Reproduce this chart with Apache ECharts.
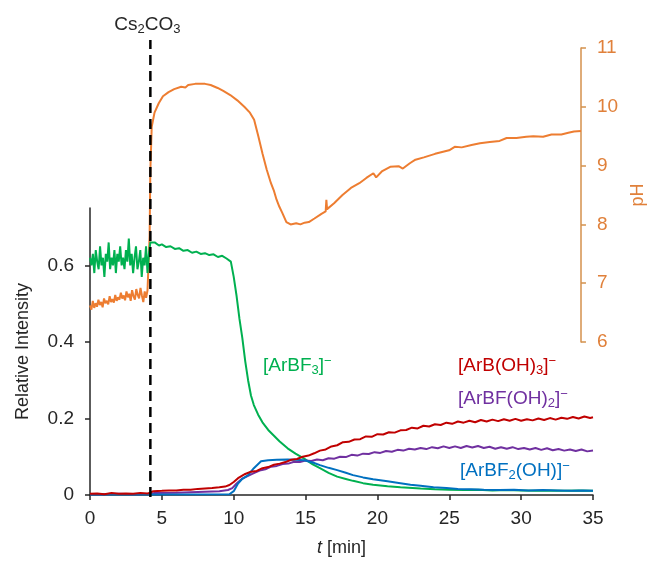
<!DOCTYPE html>
<html>
<head>
<meta charset="utf-8">
<script src="https://cdn.jsdelivr.net/npm/echarts@6/dist/echarts.min.js"></script>
<style>
  html, body { margin: 0; padding: 0; background: #fff; }
  #chart { width: 655px; height: 562px; }
</style>
</head>
<body>
<div id="chart"></div>
<script>
// time [min], relative intensity / pH
var arbf3 = [
  [0, 0.62], [0.1, 0.60], [0.2, 0.63], [0.3, 0.58], [0.4, 0.64], [0.5, 0.61], [0.6, 0.59], [0.7, 0.65],
  [0.8, 0.60], [0.9, 0.62], [1.0, 0.57], [1.1, 0.63], [1.2, 0.61], [1.3, 0.66], [1.4, 0.59], [1.5, 0.62],
  [1.6, 0.60], [1.7, 0.64], [1.8, 0.58], [1.9, 0.63], [2.0, 0.61], [2.1, 0.65], [2.2, 0.60], [2.3, 0.62],
  [2.4, 0.59], [2.5, 0.64], [2.6, 0.61], [2.7, 0.67], [2.8, 0.60], [2.9, 0.63], [3.0, 0.58], [3.1, 0.62],
  [3.2, 0.65], [3.3, 0.59], [3.4, 0.61], [3.5, 0.64], [3.6, 0.57], [3.7, 0.62], [3.8, 0.60], [3.9, 0.65],
  [4.0, 0.58], [4.1, 0.63], [4.2, 0.66], [4.3, 0.655], [4.5, 0.66], [4.8, 0.652], [5.0, 0.655],
  [5.3, 0.648], [5.6, 0.65], [5.9, 0.643], [6.2, 0.645], [6.5, 0.638], [6.8, 0.64], [7.1, 0.633],
  [7.4, 0.636], [7.7, 0.63], [8.0, 0.632], [8.3, 0.627], [8.6, 0.629], [8.9, 0.622], [9.2, 0.625],
  [9.5, 0.618], [9.8, 0.61], [10.0, 0.57], [10.2, 0.52], [10.4, 0.46], [10.6, 0.41], [10.8, 0.35],
  [11.0, 0.30], [11.2, 0.26], [11.4, 0.235], [11.7, 0.21], [12.0, 0.19], [12.4, 0.17], [12.8, 0.155],
  [13.2, 0.14], [13.75, 0.122], [14.3, 0.108], [14.9, 0.095], [15.5, 0.08], [16.0, 0.07], [16.6, 0.058],
  [17.2, 0.048], [17.8, 0.042], [18.3, 0.037], [19.0, 0.031], [19.7, 0.027], [20.7, 0.023], [21.6, 0.02],
  [23, 0.017], [24, 0.015], [25, 0.014], [26, 0.013], [27, 0.014], [28, 0.012], [29, 0.013], [30, 0.012],
  [31, 0.011], [32, 0.012], [33, 0.011], [34, 0.012], [35, 0.011]
];
var arbfoh2 = [
  [0, 0.002], [1, 0.002], [2, 0.003], [3, 0.002], [4.2, 0.003], [4.5, 0.005], [6, 0.006], [7.5, 0.008],
  [9, 0.01], [9.6, 0.013], [9.9, 0.018], [10.2, 0.03], [10.6, 0.043], [11.0, 0.05], [11.4, 0.057],
  [11.8, 0.064], [12.2, 0.067], [12.6, 0.074], [13.0, 0.076], [13.4, 0.081], [13.8, 0.082], [14.2, 0.087],
  [14.6, 0.086], [15.0, 0.09], [15.4, 0.089], [15.8, 0.093], [16.2, 0.091], [16.6, 0.096], [17.0, 0.095],
  [17.4, 0.1], [17.8, 0.099], [18.2, 0.105], [18.6, 0.103], [19.0, 0.108], [19.4, 0.107], [19.8, 0.112],
  [20.2, 0.11], [20.6, 0.115], [21.0, 0.113], [21.4, 0.118], [21.8, 0.116], [22.2, 0.121], [22.6, 0.119],
  [23.0, 0.123], [23.4, 0.12], [23.8, 0.125], [24.2, 0.122], [24.6, 0.127], [25.0, 0.123], [25.4, 0.127],
  [25.8, 0.123], [26.2, 0.128], [26.6, 0.124], [27.0, 0.128], [27.4, 0.123], [27.8, 0.126], [28.2, 0.121],
  [28.6, 0.125], [29.0, 0.121], [29.4, 0.125], [29.8, 0.12], [30.2, 0.123], [30.6, 0.119], [31.0, 0.123],
  [31.4, 0.118], [31.8, 0.122], [32.2, 0.117], [32.6, 0.12], [33.0, 0.116], [33.4, 0.119], [33.8, 0.115],
  [34.2, 0.119], [34.6, 0.114], [35, 0.116]
];
var arbf2oh = [
  [0, 0.001], [4, 0.001], [9.7, 0.002], [10.0, 0.01], [10.3, 0.03], [10.6, 0.042], [11.0, 0.052],
  [11.4, 0.07], [11.9, 0.088], [12.4, 0.091], [13.0, 0.092], [13.75, 0.093], [14.3, 0.092], [14.9, 0.091],
  [15.5, 0.085], [16.0, 0.078], [16.6, 0.071], [17.2, 0.065], [17.8, 0.058], [18.3, 0.052], [19.0, 0.046],
  [19.7, 0.041], [20.7, 0.036], [21.6, 0.031], [22.3, 0.027], [23.0, 0.024], [23.9, 0.02], [24.8, 0.018],
  [25.6, 0.016], [26.5, 0.015], [27.4, 0.014], [28.5, 0.013], [29.5, 0.014], [30.5, 0.012], [31.5, 0.013],
  [32.5, 0.012], [33.5, 0.011], [34.3, 0.012], [35, 0.011]
];
var arboh3 = [
  [0, 0.003], [0.5, 0.004], [1, 0.002], [1.5, 0.005], [2, 0.003], [2.5, 0.004], [3, 0.003], [3.5, 0.005],
  [4.0, 0.004], [4.2, 0.006], [4.4, 0.01], [5, 0.011], [5.5, 0.012], [6, 0.012], [6.5, 0.014], [7, 0.014],
  [7.5, 0.016], [8, 0.017], [8.5, 0.018], [9.0, 0.02], [9.4, 0.022], [9.7, 0.026], [10.0, 0.034],
  [10.3, 0.044], [10.8, 0.055], [11.2, 0.061], [11.6, 0.063], [12.0, 0.07], [12.4, 0.073], [12.8, 0.079],
  [13.2, 0.082], [13.6, 0.086], [14.0, 0.092], [14.4, 0.094], [14.8, 0.1], [15.2, 0.103], [15.6, 0.109],
  [16.0, 0.116], [16.4, 0.119], [16.8, 0.127], [17.2, 0.13], [17.6, 0.138], [18.0, 0.139], [18.4, 0.145],
  [18.8, 0.146], [19.2, 0.153], [19.6, 0.152], [20.0, 0.159], [20.4, 0.158], [20.8, 0.164], [21.2, 0.163],
  [21.6, 0.169], [22.0, 0.17], [22.4, 0.176], [22.8, 0.174], [23.2, 0.181], [23.6, 0.179], [24.0, 0.185],
  [24.4, 0.183], [24.8, 0.189], [25.2, 0.186], [25.6, 0.192], [26.0, 0.189], [26.4, 0.194], [26.8, 0.19],
  [27.2, 0.196], [27.6, 0.192], [28.0, 0.197], [28.4, 0.193], [28.8, 0.198], [29.2, 0.194], [29.6, 0.199],
  [30.0, 0.194], [30.4, 0.198], [30.8, 0.195], [31.2, 0.2], [31.6, 0.196], [32.0, 0.201], [32.4, 0.197],
  [32.8, 0.202], [33.2, 0.199], [33.6, 0.204], [34.0, 0.2], [34.4, 0.205], [34.8, 0.201], [35, 0.203]
];
var pH = [
  [0, 6.62], [0.1, 6.55], [0.2, 6.70], [0.3, 6.58], [0.4, 6.66], [0.5, 6.60], [0.6, 6.72], [0.7, 6.63],
  [0.8, 6.68], [0.9, 6.59], [1.0, 6.74], [1.1, 6.66], [1.2, 6.70], [1.3, 6.64], [1.4, 6.78], [1.5, 6.68],
  [1.6, 6.73], [1.7, 6.67], [1.8, 6.80], [1.9, 6.70], [2.0, 6.76], [2.1, 6.72], [2.2, 6.84], [2.3, 6.74],
  [2.4, 6.79], [2.5, 6.71], [2.6, 6.86], [2.7, 6.76], [2.8, 6.82], [2.9, 6.70], [3.0, 6.88], [3.1, 6.78],
  [3.2, 6.72], [3.3, 6.90], [3.4, 6.80], [3.5, 6.74], [3.6, 6.92], [3.7, 6.79], [3.8, 6.68], [3.9, 6.86],
  [4.0, 6.75], [4.1, 6.88], [4.2, 6.9], [4.25, 7.8], [4.3, 8.9], [4.4, 9.66], [4.6, 9.9], [4.9, 10.06],
  [5.2, 10.18], [5.6, 10.25], [6.0, 10.3], [6.5, 10.34], [6.8, 10.33], [7.0, 10.37], [7.5, 10.39],
  [8.2, 10.39], [8.6, 10.37], [9.1, 10.32], [9.5, 10.27], [10.0, 10.2], [10.5, 10.11], [11.0, 10.0],
  [11.4, 9.9], [11.7, 9.78], [12.0, 9.5], [12.3, 9.2], [12.6, 8.93], [12.9, 8.7], [13.1, 8.58],
  [13.3, 8.42], [13.5, 8.3], [13.7, 8.2], [14.0, 8.04], [14.3, 8.0], [14.7, 8.02], [15.0, 8.0],
  [15.3, 8.03], [15.6, 8.04], [16.0, 8.1], [16.5, 8.18], [16.8, 8.22], [16.85, 8.42], [16.9, 8.26],
  [17.4, 8.36], [18.0, 8.5], [18.6, 8.62], [19.2, 8.7], [19.7, 8.79], [20.2, 8.87], [20.4, 8.8],
  [20.8, 8.9], [21.4, 8.98], [22.0, 8.99], [22.3, 8.95], [22.8, 9.04], [23.2, 9.1], [23.8, 9.14],
  [24.6, 9.2], [25.1, 9.23], [25.6, 9.26], [26.0, 9.32], [26.5, 9.31], [27.2, 9.35], [27.8, 9.38],
  [28.5, 9.4], [29.2, 9.42], [29.7, 9.47], [30.4, 9.47], [31.1, 9.49], [31.6, 9.5], [32.3, 9.49],
  [32.9, 9.53], [33.6, 9.53], [34.1, 9.56], [34.5, 9.58], [35, 9.59]
];
// Cs2CO3 addition time
var addTime = 4.2;
var yTicks = [0, 0.2, 0.4, 0.6];

var FONT = 'Liberation Sans, Arial, sans-serif';
var GREEN = '#00B050', PURPLE = '#7030A0', BLUE = '#0070C0', RED = '#C00000', ORANGE = '#ED7D31';
var rich = {
  sub: { fontSize: 13, padding: [9, 0, 0, 0] },
  sup: { fontSize: 13, padding: [0, 0, 9, 0] }
};

function richLabel (text, color, x, y) {
  return {
    type: 'text', left: x, top: y,
    style: {
      text: text, fill: color, font: '19px ' + FONT,
      rich: {
        sub: { fill: color, font: '13px ' + FONT, padding: [9, 0, 0, 0] },
        sup: { fill: color, font: '13px ' + FONT, padding: [0, 0, 9, 0] }
      }
    }
  }
}

var myChart = echarts.init(document.getElementById('chart'));
myChart.setOption({
  animation: false,
  textStyle: { fontFamily: FONT },
  grid: [
    { left: 90, right: 62, top: 208, bottom: 65 },
    { left: 90, right: 62, top: 48, bottom: 220 },
    { left: 90, right: 62, top: 40, bottom: 65 }
  ],
  xAxis: [
    {
      gridIndex: 0, type: 'value', min: 0, max: 35, interval: 5,
      name: '{i|t} [min]', nameLocation: 'middle', nameGap: 44,
      nameTextStyle: { fontSize: 18, color: '#262626', rich: { i: { fontStyle: 'italic', fontSize: 18 } } },
      axisLine: { lineStyle: { color: '#262626', width: 1.5 } },
      axisTick: { show: true, length: 5, lineStyle: { color: '#262626', width: 1.5 } },
      axisLabel: { fontSize: 19, color: '#262626', margin: 14 },
      splitLine: { show: false }
    },
    { gridIndex: 1, type: 'value', min: 0, max: 35, show: false },
    { gridIndex: 2, type: 'value', min: 0, max: 35, show: false }
  ],
  yAxis: [
    {
      gridIndex: 0, type: 'value', min: 0, max: 0.75,
      name: 'Relative Intensity', nameLocation: 'middle', nameGap: 58,
      nameTextStyle: { fontSize: 18, color: '#262626' },
      axisLine: { show: true, lineStyle: { color: '#262626', width: 1.5 } },
      axisTick: { show: true, length: 5, customValues: yTicks, lineStyle: { color: '#262626', width: 1.5 } },
      axisLabel: { fontSize: 19, color: '#262626', margin: 16, customValues: yTicks },
      splitLine: { show: false }
    },
    {
      gridIndex: 1, type: 'value', position: 'right', min: 6, max: 11, interval: 1,
      name: 'pH', nameLocation: 'middle', nameGap: 40, nameRotate: 90,
      nameTextStyle: { fontSize: 18, color: '#E0803A' },
      axisLine: { show: true, onZero: false, lineStyle: { color: '#D4914C', width: 1.5 } },
      axisTick: { show: true, length: 5, lineStyle: { color: '#D4914C', width: 1.5 } },
      axisLabel: { fontSize: 19, color: '#E0803A', margin: 16 },
      splitLine: { show: false }
    },
    { gridIndex: 2, type: 'value', min: 0, max: 1, show: false }
  ],
  graphic: [
    richLabel('[ArBF{sub|3}]{sup|−}', GREEN, 263, 355),
    richLabel('[ArB(OH){sub|3}]{sup|−}', RED, 458, 355),
    richLabel('[ArBF(OH){sub|2}]{sup|−}', PURPLE, 458, 388),
    richLabel('[ArBF{sub|2}(OH)]{sup|−}', BLUE, 460, 460)
  ],
  series: [
    {
      name: 'pH', type: 'line', xAxisIndex: 1, yAxisIndex: 1, data: pH,
      showSymbol: false, lineStyle: { color: ORANGE, width: 2 }, itemStyle: { color: ORANGE }
    },
    {
      name: '[ArBF3]-', type: 'line', data: arbf3, showSymbol: false,
      lineStyle: { color: GREEN, width: 2 }, itemStyle: { color: GREEN }
    },
    {
      name: '[ArBF(OH)2]-', type: 'line', data: arbfoh2, showSymbol: false,
      lineStyle: { color: PURPLE, width: 2 }, itemStyle: { color: PURPLE }
    },
    {
      name: '[ArBF2(OH)]-', type: 'line', data: arbf2oh, showSymbol: false,
      lineStyle: { color: BLUE, width: 2 }, itemStyle: { color: BLUE }
    },
    {
      name: '[ArB(OH)3]-', type: 'line', data: arboh3, showSymbol: false,
      lineStyle: { color: RED, width: 2 }, itemStyle: { color: RED }
    },
    {
      // dashed marker for Cs2CO3 addition
      name: 'Cs2CO3', type: 'line', xAxisIndex: 2, yAxisIndex: 2, z: 5,
      data: [[addTime, 0], { value: [addTime, 1], label: {
        show: true, position: 'top', distance: 4, offset: [-3, 0], color: '#262626', fontSize: 19,
        formatter: 'Cs{sub|2}CO{sub|3}', rich: rich
      } }],
      symbol: 'circle', symbolSize: 0, showSymbol: true,
      itemStyle: { color: '#000' },
      lineStyle: { color: '#000', width: 2.5, type: [10, 6] }
    }
  ]
});
</script>
</body>
</html>
